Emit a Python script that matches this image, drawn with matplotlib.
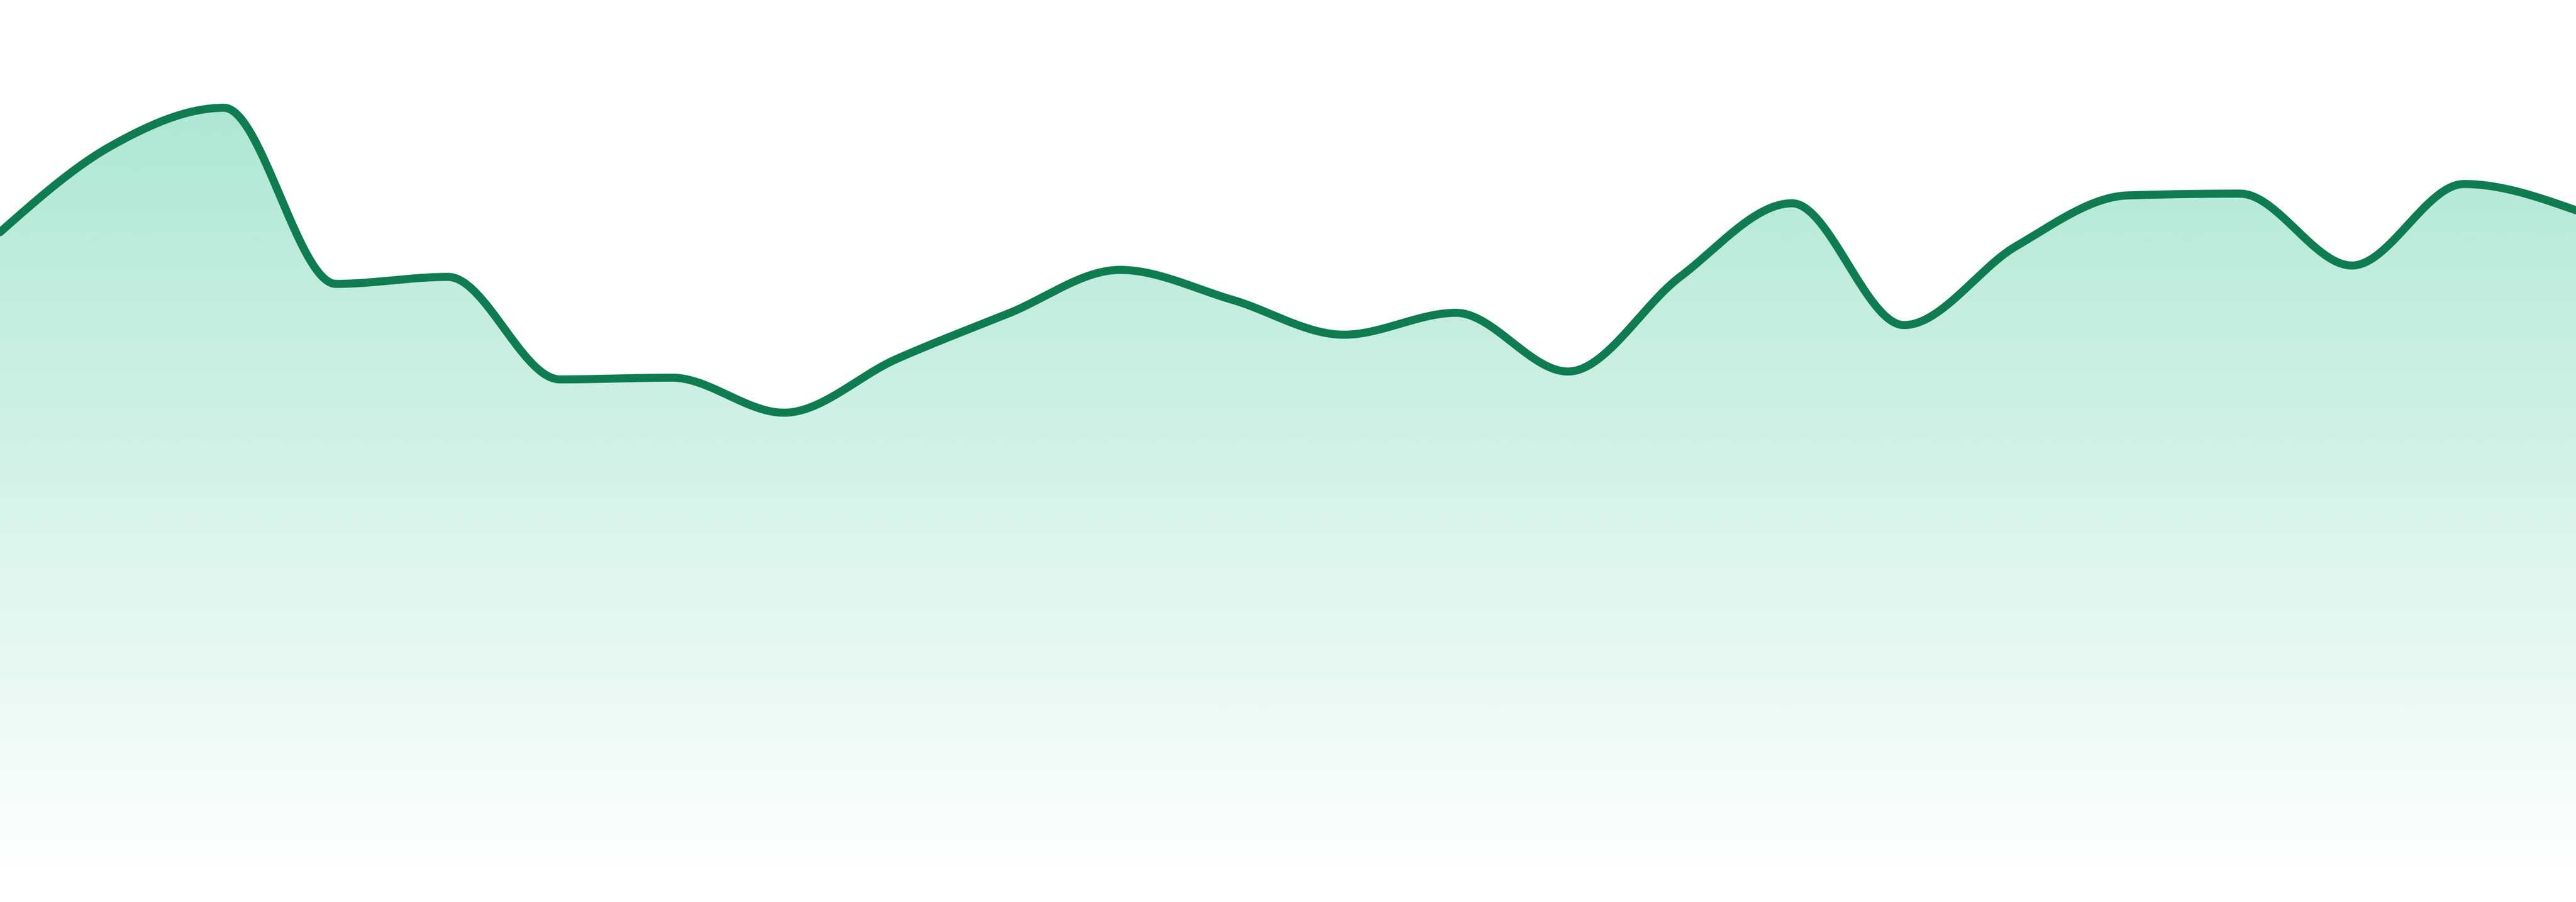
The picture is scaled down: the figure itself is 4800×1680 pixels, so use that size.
import numpy as np
import matplotlib
matplotlib.use("Agg")
import matplotlib.pyplot as plt
from matplotlib.colors import to_rgb

# values (0 = baseline, 100 = top edge)
points = np.arange(24)
values = [73.5, 83.4, 87.7, 67.6, 68.4, 56.7, 56.9, 52.9, 59.0, 64.2, 69.2, 65.8,
          61.8, 64.3, 57.6, 68.4, 76.8, 62.9, 71.9, 77.7, 77.9, 69.7, 79.0, 76.0]

line_color = "#0f7b51"
fill_color = "#10b981"


def monotone_x(x, y, n=60):
    # same smoothing as d3.curveMonotoneX
    x = np.asarray(x, float)
    y = np.asarray(y, float)
    h = np.diff(x)
    s = np.diff(y) / h
    t = np.zeros(len(x))
    for i in range(1, len(x) - 1):
        p = (s[i - 1] * h[i] + s[i] * h[i - 1]) / (h[i - 1] + h[i])
        t[i] = (np.sign(s[i - 1]) + np.sign(s[i])) * min(abs(s[i - 1]), abs(s[i]), 0.5 * abs(p))
    t[0] = (3 * s[0] - t[1]) / 2
    t[-1] = (3 * s[-1] - t[-2]) / 2
    xs, ys = [], []
    for i in range(len(x) - 1):
        u = np.linspace(0, 1, n, endpoint=False)
        h00 = 2 * u**3 - 3 * u**2 + 1
        h10 = u**3 - 2 * u**2 + u
        h01 = -2 * u**3 + 3 * u**2
        h11 = u**3 - u**2
        xs.append(x[i] + u * h[i])
        ys.append(h00 * y[i] + h10 * h[i] * t[i] + h01 * y[i + 1] + h11 * h[i] * t[i + 1])
    xs.append([x[-1]])
    ys.append([y[-1]])
    return np.concatenate(xs), np.concatenate(ys)


xs, ys = monotone_x(points, values)

fig = plt.figure(figsize=(48, 16.8), dpi=100)
ax = fig.add_axes([0, 0, 1, 1])
ax.set_xlim(points[0], points[-1])
ax.set_ylim(-100 * 48 / 1632, 100)
ax.axis("off")

# gradient fill under the line
poly = ax.fill_between(xs, ys, 0, color="none", lw=0)
top = max(values)
grad = np.zeros((256, 1, 4))
grad[:, 0, :3] = to_rgb(fill_color)
grad[:, 0, 3] = np.linspace(0.34, 0.0, 256)
img = ax.imshow(grad, extent=(points[0], points[-1], 0, top), aspect="auto",
                origin="upper", interpolation="bilinear", zorder=1)
img.set_clip_path(poly.get_paths()[0], transform=ax.transData)

ax.plot(xs, ys, color=line_color, lw=10.8, solid_capstyle="round",
        solid_joinstyle="round", zorder=2)

fig.savefig("out.png", dpi=100, facecolor="white")
